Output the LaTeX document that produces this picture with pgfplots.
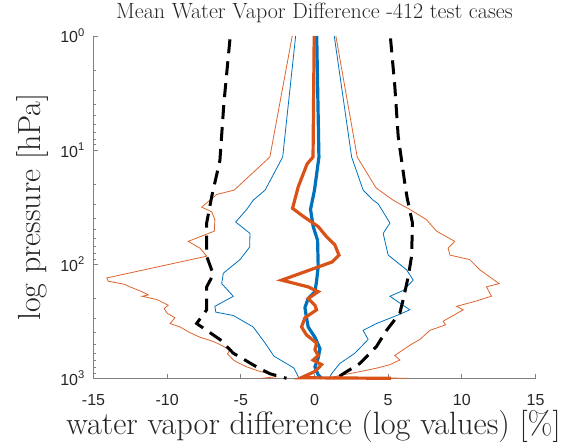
\documentclass[border=0pt]{standalone}
\usepackage{pgfplots}
\pgfplotsset{compat=1.18}
\usepackage{fontspec}
\newfontfamily\tickfont{Liberation Sans}
\definecolor{mblue}{RGB}{0,114,189}
\definecolor{morange}{RGB}{217,83,25}
\definecolor{axgray}{RGB}{128,128,128}
\begin{document}
\begin{tikzpicture}
\begin{axis}[
  at={(0pt,0pt)}, anchor=south west,
  scale only axis, width=442pt, height=342.3pt,
  xmin=-15, xmax=15, ymin=1, ymax=1000,
  ymode=log, y dir=reverse,
  axis x line*=bottom, axis y line*=left,
  axis line style={axgray, line width=0.9pt},
  every tick/.style={axgray, line width=0.9pt},
  tick align=inside,
  major tick length=4.5pt, minor tick length=2.5pt,
  xtick={-15,-10,...,15},
  ytick={1,10,100,1000},
  yticklabels={{10\textsuperscript{0}},{10\textsuperscript{1}},{10\textsuperscript{2}},{10\textsuperscript{3}}},
  /pgf/number format/assume math mode=true,
  xticklabel style={font=\tickfont\fontsize{16}{16}\selectfont, text=black!85, anchor=north, inner sep=0pt, yshift=-16pt},
  yticklabel style={font=\tickfont\fontsize{16}{16}\selectfont, text=black!85, anchor=east, inner sep=0pt, xshift=-8.5pt},
  title={Mean Water Vapor Difference -412 test cases},
  title style={font=\fontsize{22}{24}\selectfont, text=black!85, at={(axis description cs:0.5,1)}, anchor=base, yshift=11pt},
  xlabel={water vapor difference (log values) [\%]},
  xlabel style={font=\fontsize{32.3}{34}\selectfont, text=black!85, at={(axis description cs:0.5,0)}, anchor=base, yshift=-55.7pt, xshift=-1pt},
  ylabel={log pressure [hPa]},
  ylabel style={font=\fontsize{32}{34}\selectfont, text=black!85, at={(axis description cs:0,0.5)}, anchor=base, yshift=53pt},
  clip=false,
]
% thin orange left
\addplot[morange!90, line width=0.8pt] coordinates {
(-1.51,1) (-3.03,11.5) (-5.45,22.4) (-6.64,24.5) (-7.66,31.6) (-6.98,34.7) (-6.76,40.7) (-6.8,51.3) (-8.57,63.1) (-7.77,72.4) (-7.32,85.1) (-14.1,132) (-14.0,141) (-12.9,150) (-12.52,158) (-11.73,174) (-11.28,186) (-11.7,191) (-10.7,204) (-9.93,229) (-10.2,245) (-10.0,269) (-9.47,295) (-9.8,331) (-9.13,355) (-8.5,395) (-7.77,437) (-7.2,460) (-6.64,490) (-5.74,562) (-5.9,610) (-5.5,692) (-5.1,740) (-4.6,794) (-3.7,871) (-2.8,933) (-2.6,970) (-3.6,1000)
};
% thin orange right
\addplot[morange!90, line width=0.8pt] coordinates {
(1.45,1) (2.9,11.5) (4.17,21.4) (5.34,27.5) (6.47,33.1) (7.6,40.7) (8.28,51.3) (9.52,63.1) (9.07,72.4) (9.19,83.2) (10.54,91.2) (11.22,112) (12.53,148) (11.67,158) (12.01,191) (10.77,214) (9.64,234) (10.09,251) (9.41,282) (8.73,316) (8.9,340) (7.83,380) (7.15,457) (6.5,510) (6.02,562) (5.45,631) (5.79,692) (5.12,759) (4.3,810) (3.53,851) (1.95,933) (1.2,977) (6.3,1000)
};
% thin blue left
\addplot[mblue, line width=0.8pt] coordinates {
(-1.28,1) (-2.16,11.5) (-3.35,22.4) (-4.16,27.5) (-4.6,33.1) (-5.35,42.7) (-4.38,53.7) (-4.4,70.8) (-5.06,91.2) (-6.19,120) (-6.3,148) (-5.51,191) (-6.76,234) (-6.7,263) (-5.5,282) (-4.16,355) (-3.36,490) (-2.75,640) (-1.78,759) (-1.4,813) (-1.2,912) (-1.05,1000)
};
% thin blue right
\addplot[mblue, line width=0.8pt] coordinates {
(1.34,1) (2.52,11.5) (3.3,22.4) (3.98,27.5) (4.32,29.5) (5.12,43.6) (4.66,53.7) (5.0,83.2) (6.25,112) (6.7,138) (6.02,170) (5.12,191) (5.79,219) (6.47,251) (5.57,282) (4.21,331) (3.3,380) (3.64,457) (2.74,603) (1.72,741) (1.16,912) (1.0,1000)
};
% dashed black left
\addplot[black, line width=3pt, dash pattern=on 14pt off 8pt] coordinates {
(-5.74,1.07) (-6.15,3.89) (-6.42,12.3) (-6.98,25.7) (-7.32,43.6) (-7.32,85.1) (-6.87,123) (-7.32,158) (-7.32,251) (-8.0,331) (-6.42,457) (-5.51,603) (-3.93,794) (-3.03,912) (-1.9,1000)
};
% dashed black right
\addplot[black, line width=3pt, dash pattern=on 14pt off 8pt] coordinates {
(5.16,1.05) (5.45,2.75) (5.68,7.59) (6.13,19.5) (6.29,26.3) (6.65,43.6) (6.59,85.1) (6.36,129) (6.02,204) (5.79,269) (4.89,380) (4.21,525) (3.08,741) (1.95,912) (1.5,1000)
};
% thick blue
\addplot[mblue, line width=3.2pt] coordinates {
(0.15,1) (0.3,11.5) (0.0,22.4) (-0.27,33.1) (-0.09,46.8) (0.21,61.7) (0.25,105) (0.14,141) (0.03,174) (-0.43,200) (-0.65,240) (-0.54,295) (-0.43,355) (0.03,437) (0.37,550) (0.25,661) (0.03,794) (0.25,933) (0.48,1000)
};
% thick orange
\addplot[morange, line width=3.2pt] coordinates {
(-0.02,1) (-0.1,11.5) (-0.5,13.2) (-1.1,20.9) (-1.49,32.4) (-0.77,38.0) (0.25,46.8) (0.82,57.5) (1.38,67.6) (1.66,83.2) (1.2,95.5) (-2.23,138) (-0.43,158) (0.25,174) (-0.43,200) (0.03,229) (0.14,251) (-0.65,295) (-0.88,355) (-0.54,417) (0.14,490) (0.03,562) (0.25,631) (-0.09,692) (0.48,759) (0.03,871) (-0.9,989) (5.2,1000)
};
\end{axis}
\pgfresetboundingbox
\useasboundingbox (-93.5pt,-64.7pt) rectangle (467.5pt,378.3pt);
\end{tikzpicture}
\end{document}
